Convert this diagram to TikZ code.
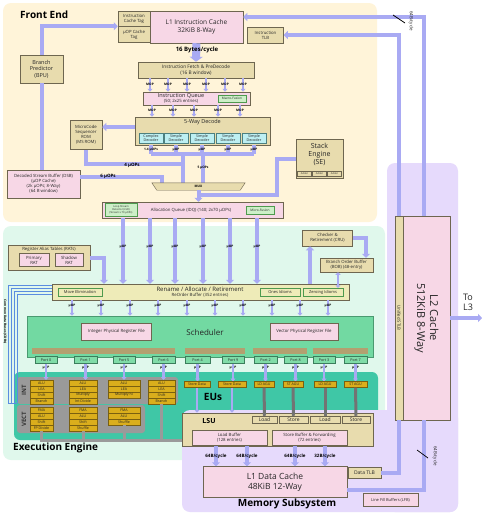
\documentclass[tikz,border=0pt]{standalone}
\usepackage{fontspec}
\setmainfont{Open Sans}
\usetikzlibrary{calc}
\usetikzlibrary{positioning}
\usetikzlibrary{arrows.meta}

\definecolor{febg}{HTML}{FFF4D9}
\definecolor{eebg}{HTML}{E0F8EC}
\definecolor{msbg}{HTML}{E6DAFC}
\definecolor{eubg}{HTML}{3FC7A6}
\definecolor{edgec}{HTML}{6E6650}
\definecolor{tanc}{HTML}{E8DCAE}
\definecolor{pinkc}{HTML}{F7D7E6}
\definecolor{fusefill}{HTML}{CDEFC8}
\definecolor{fuseedge}{HTML}{4E9A4E}
\definecolor{decfill}{HTML}{BDEFF2}
\definecolor{decedge}{HTML}{4D8080}
\definecolor{schedc}{HTML}{72D9A2}
\definecolor{schededge}{HTML}{4A9A70}
\definecolor{portfill}{HTML}{80DCA8}
\definecolor{portedge}{HTML}{3C7E5C}
\definecolor{eufill}{HTML}{DAAE1C}
\definecolor{euedge}{HTML}{7A6010}
\definecolor{greyc}{HTML}{9A9A9A}
\definecolor{renamec}{HTML}{EEEBB8}
\definecolor{brownc}{HTML}{B3A070}
\definecolor{busc}{HTML}{A9AAF3}
\definecolor{cdbc}{HTML}{5B8DE0}

\tikzset{every picture/.style={/utils/exec={\rmfamily}}}

\begin{document}
\begin{tikzpicture}[x=1pt, y=-1pt,
  every node/.style={inner sep=0pt, align=center, text=black!85, font=\fontsize{4.3}{5}\selectfont},
  sz/.style 2 args={minimum width=#1, minimum height=#2},
  tanbox/.style={draw=edgec, fill=tanc, line width=0.5pt},
  pinkbox/.style={draw=edgec, fill=pinkc, line width=0.5pt},
  fusebox/.style={draw=fuseedge, fill=fusefill, line width=0.4pt, font=\fontsize{3.2}{3.7}\selectfont},
  decbox/.style={draw=decedge, fill=decfill, line width=0.4pt, font=\fontsize{3.7}{4.3}\selectfont},
  idiombox/.style={draw=fuseedge, fill=renamec, line width=0.4pt, font=\fontsize{4}{4.6}\selectfont},
  portbox/.style={draw=portedge, fill=portfill, line width=0.4pt, font=\fontsize{3.7}{4.3}\selectfont},
  eubox/.style={draw=euedge, fill=eufill, line width=0.4pt, font=\fontsize{3.6}{4.2}\selectfont},
  bus/.style={draw=busc, line width=4pt},
  busarrow/.style={bus, -{Triangle[length=4pt,width=8pt]}},
  uop/.style={draw=busc, line width=2.5pt, -{Triangle[length=3pt,width=5pt]}},
  greyline/.style={draw=greyc, line width=3pt},
  agu/.style={draw=black!55, line width=3pt},
  tiny/.style={text=black, font=\fontsize{3.2}{3.6}\selectfont\bfseries},
  bw/.style={text=black, font=\fontsize{4.5}{5}\selectfont\bfseries},
  title/.style={text=black, font=\fontsize{10}{12}\selectfont\bfseries},
]
\useasboundingbox (0,0) rectangle (500,515);
\fill[white] (0,0) rectangle (500,515);

% panels
\fill[febg, rounded corners=8] (3,3) rectangle (377,222);
\fill[eebg, rounded corners=8] (3,226) rectangle (385,460);
\fill[eubg, rounded corners=6] (14,372) rectangle (378,440);
\fill[msbg, rounded corners=8] (387,163) rectangle (458,512);
\fill[msbg, rounded corners=8] (182,410) rectangle (458,512);
\fill[greyc, rounded corners=3] (17,377) rectangle (178,404);
\fill[greyc, rounded corners=3] (17,405) rectangle (145,433);

\node[title, anchor=west] (fetitle) at (20,15) {Front End};
\node[title, anchor=west] (eetitle) at (13,448) {Execution Engine};
\node[title] (mstitle) at (287,504) {Memory Subsystem};
\node[title] (eutitle) at (213,397) {EUs};

% front end
\node[tanbox, sz={32}{15}] (ictag) at (134,18.5) {Instruction\\Cache Tag};
\node[tanbox, sz={32}{16}, below=0pt of ictag] (uoptag) {μOP Cache\\Tag};
\node[pinkbox, sz={93}{32}, font=\fontsize{6.5}{7.6}\selectfont] (l1i) at (196.5,27) {L1 Instruction Cache\\32KiB 8-Way};
\node[tanbox, sz={36}{16}] (itlb) at (265.5,35) {Instruction\\TLB};
\node[tanbox, sz={43}{28}, font=\fontsize{5.5}{6.4}\selectfont] (bpu) at (41.5,69) {Branch\\Predictor\\(BPU)};
\node[tanbox, sz={116}{16}, font=\fontsize{4.8}{5.6}\selectfont] (fetch) at (196,70) {Instruction Fetch \& PreDecode\\(16 B window)};
\node[pinkbox, sz={107}{13}] (iq) at (196.5,98.5) {};
\node (iqtext) at (181,98.5) {{\fontsize{5.5}{6}\selectfont Instruction Queue}\\(50; 2x25 entries)};
\node[fusebox, sz={28}{7}] (macro) at (232,98.5) {Macro-Fusion};
\node[tanbox, sz={135}{28}] (decode) at (202.5,131) {};
\node[font=\fontsize{5.5}{6}\selectfont] (dectext) at (202.5,122) {5-Way Decode};
\node[decbox, sz={24}{10}] (cdec) at (151,138) {Complex\\Decoder};
\foreach \x [count=\i] in {176,202,228,254}
  \node[decbox, sz={24}{10}] (sdec\i) at (\x,138) {Simple\\Decoder};
\node[tanbox, sz={32}{29}] (msrom) at (86,135) {MicroCode\\Sequencer\\ROM\\(MS ROM)};
\node[tanbox, sz={47}{39}] (se) at (319.5,158.5) {};
\node[font=\fontsize{7}{8}\selectfont] (setext) at (319.5,154) {Stack\\Engine\\(SE)};
\foreach \x [count=\i] in {304.5,319.5,334.5}
  \node[tanbox, sz={14}{5}, font=\fontsize{2.5}{3}\selectfont] (adder\i) at (\x,173.5) {Adder};
\node[pinkbox, sz={73}{28}] (dsb) at (43.5,184) {Decoded Stream Buffer (DSB)\\(μOP Cache)\\(2k μOPs; 8-Way)\\(64 B window)};
\node[pinkbox, sz={181}{16}] (idq) at (192.5,210) {};
\node (idqtext) at (191,210) {Allocation Queue (IDQ) (140; 2x70 μOPs)};
\node[fusebox, sz={32}{13}, font=\fontsize{2.6}{3}\selectfont] (lsd) at (121,210) {Loop Stream\\Detector (LSD)\\(Stream x 70 μOPs)};
\node[fusebox, sz={28}{8}] (micro) at (260,210) {Micro-Fusion};

% front end buses
\draw[busarrow] (bpu.north) |- (ictag.south west);
\draw[bus] (bpu.south) -- (bpu.south |- dsb.north);
\draw[draw=busc, line width=8pt, -{Triangle[length=5pt,width=13pt]}] (l1i.south) -- (fetch.north);
\node[font=\fontsize{6}{7}\selectfont\bfseries, text=black] (bw16) at (197,50) {16 Bytes/cycle};
\foreach \x in {150,168,187,206,225,243} {
  \draw[uop] (fetch.south -| \x,0) -- (iq.north -| \x,0);
  \node[tiny] at (\x,84.5) {MOP};
}
\foreach \x in {152,173,194,218,240} {
  \draw[uop] (iq.south -| \x,0) -- (decode.north -| \x,0);
  \node[tiny] at (\x,110.5) {MOP};
}
\draw[busarrow] ([yshift=4]decode.west) -- ([yshift=4]decode.west -| msrom.east);
\draw[bus] (cdec.south |- decode.south) -- (cdec.south |- 0,154);
\foreach \i in {1,2,3,4}
  \draw[bus] (sdec\i.south |- decode.south) -- (sdec\i.south |- 0,154);
\draw[bus] (cdec.south |- 0,154) -- (sdec4.south |- 0,154);
\node[tiny] at (151,149.5) {1-4 μOPs};
\foreach \x in {176,202,228,254}
  \node[tiny] at (\x,149.5) {μOP};
\node[sz={93}{7}] (mux) at (198.5,186.5) {};
\draw[bus] (183,154) -- (mux.north -| 183,0);
\draw[bus] (203,154) -- (mux.north -| 203,0);
\node[tiny] at (203,168) {5 μOPs};
\draw[bus] (msrom.south) |- (183,164);
\node[bw] at (132,165) {4 μOPs};
\draw[bus] (dsb.east |- 0,176.5) -| (mux.north -| 162,0);
\node[bw] at (108,176) {6 μOPs};
\draw[draw=edgec, fill=tanc, line width=0.4pt] (mux.north west) -- (mux.north east) -- ([xshift=-5]mux.south east) -- ([xshift=5]mux.south west) -- cycle;
\node[tiny] at (mux) {MUX};
\draw[bus] (se.west) -| (277,195) -- (197,195);
\draw[busarrow] (mux.south) -- (idq.north -| mux.south);

% execution engine
\node[tanbox, sz={82}{25}] (rat) at (49,257.5) {};
\node (rattext) at (49,249.5) {Register Alias Tables (RATs)};
\node[pinkbox, sz={30}{13}] (prat) at (34,260) {Primary\\RAT};
\node[pinkbox, sz={28}{13}] (srat) at (69,260) {Shadow\\RAT};
\node[tanbox, sz={50}{16}] (cru) at (327.5,238) {Checker \&\\Retirement (CRU)};
\node[tanbox, sz={53}{14}] (bob) at (346.5,265) {Branch Order Buffer\\(BOB) (48-entry)};
\node[draw=edgec, fill=renamec, line width=0.5pt, sz={297}{16}] (rename) at (200.5,292) {};
\node (rentext) at (200,292) {{\fontsize{6}{6.5}\selectfont Rename / Allocate / Retirement}\\ReOrder Buffer (352 entries)};
\node[idiombox, sz={44}{8}] (moveel) at (80,292) {Move Elimination};
\node[idiombox, sz={40}{8}] (ones) at (280,292) {Ones Idioms};
\node[idiombox, sz={40}{8}] (zero) at (323,292) {Zeroing Idioms};
\foreach \x in {123,150,175,203,230,257} {
  \draw[busarrow] (idq.south -| \x,0) -- (rename.north -| \x,0);
  \node[tiny] at (\x,247) {μOP};
}
\draw[busarrow] (rat.east) -| (rename.north -| 104,0);
\draw[busarrow] (rename.north -| 310,0) -- (cru.south -| 310,0);
\draw[busarrow] (cru.east) -| (bob.north -| 366,0);
\draw[draw=busc, line width=2.5pt, {Triangle[length=2.5pt,width=5pt]}-{Triangle[length=2.5pt,width=5pt]}] (bob.south -| 338,0) -- (zero.north -| 338,0);

\node[draw=schededge, fill=schedc, line width=0.5pt, sz={346}{41}] (sched) at (200,336.5) {};
\fill[brownc] (32,348) rectangle (175,354);
\fill[brownc] (185,348) rectangle (245,354);
\fill[brownc] (253,348) rectangle (307,354);
\fill[brownc] (313,348) rectangle (368,354);
\node[font=\fontsize{8}{9}\selectfont] (schedtext) at (205,332) {Scheduler};
\node[pinkbox, sz={70}{17}] (iprf) at (116.5,331.5) {Integer Physical Register File};
\node[pinkbox, sz={68}{17}] (vprf) at (304,331.5) {Vector Physical Register File};
\foreach \x in {72,101,130,158,187,215,243,272,300,328} {
  \draw[uop] (rename.south -| \x,0) -- (sched.north -| \x,0);
  \node[tiny] at (\x,306) {μOP};
}

% ports
\foreach \p/\x/\w in {0/46/22,1/85.5/23,5/124/22,6/163.5/23,4/197.5/25,9/233/22,2/265.5/23,8/295.5/23,3/324/22,7/355.5/23} {
  \node[portbox, sz={\w}{7}] (port\p) at (\x,360) {Port \p};
  \node[tiny] at (\x,368) {μOP};
}
\foreach \p in {0,1,5,6}
  \draw[uop] (port\p.south) -- (port\p.south |- 0,380);
\foreach \p in {4,9,2,8,3,7}
  \draw[uop] (port\p.south) -- (port\p.south |- 0,381.5);

% execution units
\node[rotate=90, text=black!80, font=\fontsize{6}{7}\selectfont\bfseries] (intlab) at (24,390) {INT};
\node[rotate=90, text=black!80, font=\fontsize{6}{7}\selectfont\bfseries] (veclab) at (24,419) {VECT};
\foreach \lab [count=\i] in {ALU,LEA,Shift,Branch}
  \node[eubox, sz={23}{6}] (int0-\i) at (41.5,377+6*\i) {\lab};
\foreach \lab [count=\i] in {ALU,LEA,Multiply,Int Divide}
  \node[eubox, sz={28}{6}] (int1-\i) at (83,377+6*\i) {\lab};
\foreach \lab [count=\i] in {ALU,LEA,Multiply hi}
  \node[eubox, sz={32}{6}] (int5-\i) at (124,377+6*\i) {\lab};
\foreach \lab [count=\i] in {ALU,LEA,Shift,Branch}
  \node[eubox, sz={27}{6}] (int6-\i) at (161.5,377+6*\i) {\lab};
\foreach \lab [count=\i] in {FMA,ALU,Shift,FP Divide}
  \node[eubox, sz={23}{6}] (vec0-\i) at (41.5,404+6*\i) {\lab};
\foreach \lab [count=\i] in {FMA,ALU,Shift,Shuffle}
  \node[eubox, sz={28}{6}] (vec1-\i) at (83,404+6*\i) {\lab};
\foreach \lab [count=\i] in {FMA,ALU,Shuffle}
  \node[eubox, sz={32}{6}] (vec5-\i) at (124,404+6*\i) {\lab};
\node[eubox, sz={26}{6}] (sd4) at (197,384.5) {Store Data};
\node[eubox, sz={28}{6}] (sd9) at (232,384.5) {Store Data};
\node[eubox, sz={20}{6}] (ld2) at (264,384.5) {LD AGU};
\node[eubox, sz={20}{6}] (st8) at (293,384.5) {ST AGU};
\node[eubox, sz={22}{6}] (ld3) at (325,384.5) {LD AGU};
\node[eubox, sz={23}{6}] (st7) at (355.5,384.5) {ST AGU};

% memory subsystem
\node[tanbox, sz={191}{33}] (lsu) at (277.5,429.5) {};
\node[text=black, font=\fontsize{7}{8}\selectfont\bfseries] (lsutext) at (209,421) {LSU};
\node[tanbox, sz={25}{7}, font=\fontsize{5}{6}\selectfont] (lda) at (264.5,419.5) {Load};
\node[tanbox, sz={29}{7}, font=\fontsize{5}{6}\selectfont] (sta) at (293.5,419.5) {Store};
\node[tanbox, sz={30}{7}, font=\fontsize{5}{6}\selectfont] (ldb) at (325,419.5) {Load};
\node[tanbox, sz={28}{7}, font=\fontsize{5}{6}\selectfont] (stb) at (356,419.5) {Store};
\node[pinkbox, sz={75}{15}] (ldbuf) at (229.5,437.5) {Load Buffer\\(128 entries)};
\node[pinkbox, sz={75}{15}] (stbuf) at (309.5,437.5) {Store Buffer \& Forwarding\\(72 entries)};
\node[pinkbox, sz={144}{31}, font=\fontsize{8.5}{10}\selectfont] (l1d) at (275,482) {L1 Data Cache\\48KiB 12-Way};
\node[tanbox, sz={33}{11}, font=\fontsize{5}{6}\selectfont] (dtlb) at (364.5,472.5) {Data TLB};
\node[pinkbox, sz={55}{13}, font=\fontsize{4}{5}\selectfont] (lfb) at (390.5,500) {Line Fill Buffers (LFB)};
\node[tanbox, sz={8}{204}] (stlb) at (399,318) {};
\node[rotate=-90] at (stlb) {Unified STLB};
\node[pinkbox, sz={47}{204}] (l2) at (426.5,318) {};
\node[rotate=-90, font=\fontsize{11}{13}\selectfont] (l2text) at (l2) {L2 Cache\\512KiB 8-Way};
\node[font=\fontsize{9}{10}\selectfont, align=left] (l3text) at (468,302) {To\\L3};
\coordinate (l3) at (482,318);
\draw[busarrow] (l2.east) -- (l3);

\draw[busarrow] ([xshift=-2.5]l2.north) |- ([yshift=10]l1i.east);
\draw[busarrow] (stlb.north) |- (itlb.east);
\draw[black, line width=0.7pt] (393,15) -- (405,23);
\node[rotate=-90, font=\fontsize{4.5}{5}\selectfont] (bwtop) at (411,21) {64B/cycle};

\draw[uop] (sd4.south) -- (sd4.south |- lsu.north);
\draw[uop] (sd9.south) -- (sd9.south |- lsu.north);
\draw[agu] (ld2.south) -- (lda.north);
\draw[agu] (st8.south) -- (sta.north);
\draw[agu] (ld3.south) -- (ldb.north);
\draw[agu] (st7.south) -- (stb.north);
\draw[greyline] (vec0-4.south) |- (lsu.west |- 0,440);
\draw[greyline] (vec1-4.south) -- (vec1-4.south |- 0,440);
\draw[greyline] (vec5-3.south) -- (vec5-3.south |- 0,440);
\draw[greyline] (int6-4.south) -- (int6-4.south |- 0,440);

\foreach \x/\t in {216/64B,247/64B,295/64B,325/32B} {
  \draw[busarrow] (lsu.south -| \x,0) -- (l1d.north -| \x,0);
  \node[bw] at (\x,456) {\t/cycle};
}
\draw[bus] (dtlb.east) -| (stlb.south);
\draw[bus] ([yshift=-8]l1d.east) -| (l2.south -| 424,0);
\draw[black, line width=0.7pt] (417,450) -- (428,458);
\node[rotate=-90, font=\fontsize{4.5}{5}\selectfont] (bwbot) at (435,456) {64B/cycle};

% common data buses
\foreach \d in {0,3,6,9}
  \draw[cdbc, line width=0.4pt] (rename.west |- 0,285+\d) -| (8+\d,403) -- (17,403);
\node[rotate=-90, tiny] (cdblab) at (5,322) {Common Data Buses (CDBs)};
\end{tikzpicture}
\end{document}
